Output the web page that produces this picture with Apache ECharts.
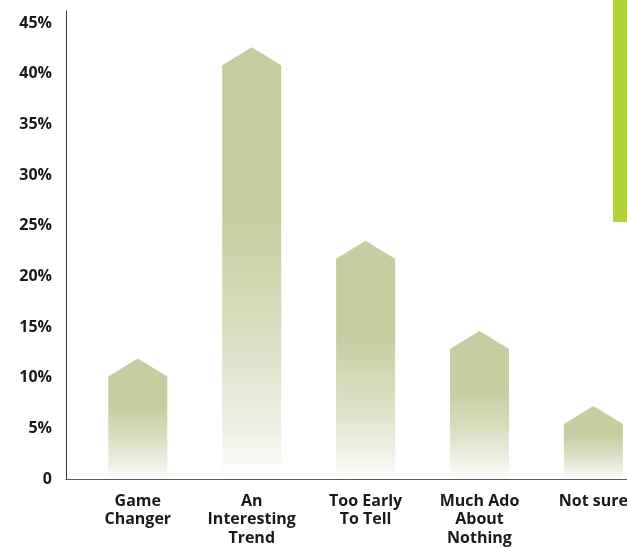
<!DOCTYPE html>
<html>
<head>
<meta charset="utf-8">
<script src="https://cdn.jsdelivr.net/npm/echarts@6/dist/echarts.min.js"></script>
<style>html,body{margin:0;padding:0;background:#fff}#c{width:627px;height:548px}</style>
</head>
<body>
<div id="c"></div>
<script>
const categories = ['Game\nChanger', 'An\nInteresting\nTrend', 'Too Early\nTo Tell', 'Much Ado\nAbout\nNothing', 'Not sure'];
const values = [11.9, 42.6, 23.5, 14.6, 7.2];
const yTicks = [0, 5, 10, 15, 20, 25, 30, 35, 40, 45];

const chart = echarts.init(document.getElementById('c'), null, {renderer: 'canvas'});
const font = '"Open Sans", Lato, sans-serif';
const fill = new echarts.graphic.LinearGradient(0, 0, 0, 1, [
  {offset: 0, color: '#c7cca1'},
  {offset: 0.4, color: '#c7cca1'},
  {offset: 0.66, color: '#dadec1'},
  {offset: 0.88, color: '#eff0e4'},
  {offset: 1, color: '#ffffff'}
]);
const yMax = 45 + 12 / (456 / 45);
const band = 113.9;
const gridLeft = 80.85;
const xMin = -0.5;
const xMax = xMin + (627 - gridLeft) / band;

chart.setOption({
  animation: false,
  grid: [
    {left: 66, right: 0, top: 11, bottom: 69, containLabel: false, outerBoundsMode: 'none'},
    {left: gridLeft, right: 0, top: 11, bottom: 69, containLabel: false, outerBoundsMode: 'none'}
  ],
  xAxis: [
    {gridIndex: 0, type: 'value', min: 0, max: 1,
     axisLine: {show: true, onZero: false, lineStyle: {color: '#5a5a5a', width: 1}},
     axisTick: {show: false}, axisLabel: {show: false}, splitLine: {show: false}},
    {gridIndex: 1, type: 'value', min: xMin, max: xMax, interval: 0.5,
     axisLine: {show: false}, axisTick: {show: false}, splitLine: {show: false},
     axisLabel: {showMinLabel: true, showMaxLabel: false, margin: 13, color: '#1a1a1a', fontFamily: font, fontWeight: 'bold', fontSize: 16, lineHeight: 18.5, align: 'center',
       formatter: v => (Math.abs(v - Math.round(v)) < 1e-6 && categories[Math.round(v)] !== undefined) ? categories[Math.round(v)] : ''}}
  ],
  yAxis: [
    {gridIndex: 0, type: 'value', min: 0, max: yMax, interval: 5,
     axisLine: {show: true, lineStyle: {color: '#3a3a3a', width: 1}},
     axisTick: {show: false}, splitLine: {show: false},
     axisLabel: {showMaxLabel: false, margin: 14, color: '#1a1a1a', fontFamily: font, fontWeight: 'bold', fontSize: 16,
       padding: [0, 0, 4, 0],
       formatter: v => yTicks.includes(v) ? (v === 0 ? '0' : v + '%') : ''}},
    {gridIndex: 1, type: 'value', min: 0, max: yMax, show: false}
  ],
  graphic: [
    {type: 'rect', right: 0, top: 0, shape: {width: 14, height: 222}, style: {fill: '#b2d23a'}, z: 10}
  ],
  series: [{
    type: 'custom',
    xAxisIndex: 1, yAxisIndex: 1,
    clip: false,
    data: values.map((v, i) => [i, v]),
    renderItem: function (params, api) {
      const xi = api.value(0), v = api.value(1);
      const top = api.coord([xi, v]);
      const base = api.coord([xi, 0]);
      const bw = api.size([1, 0])[0] * 0.518;
      const peak = 18;
      const l = top[0] - bw / 2, r = top[0] + bw / 2;
      return {
        type: 'polygon',
        shape: {points: [[l, top[1] + peak], [top[0], top[1]], [r, top[1] + peak], [r, base[1]], [l, base[1]]]},
        style: {fill: fill}
      };
    }
  }]
});
</script>
</body>
</html>
